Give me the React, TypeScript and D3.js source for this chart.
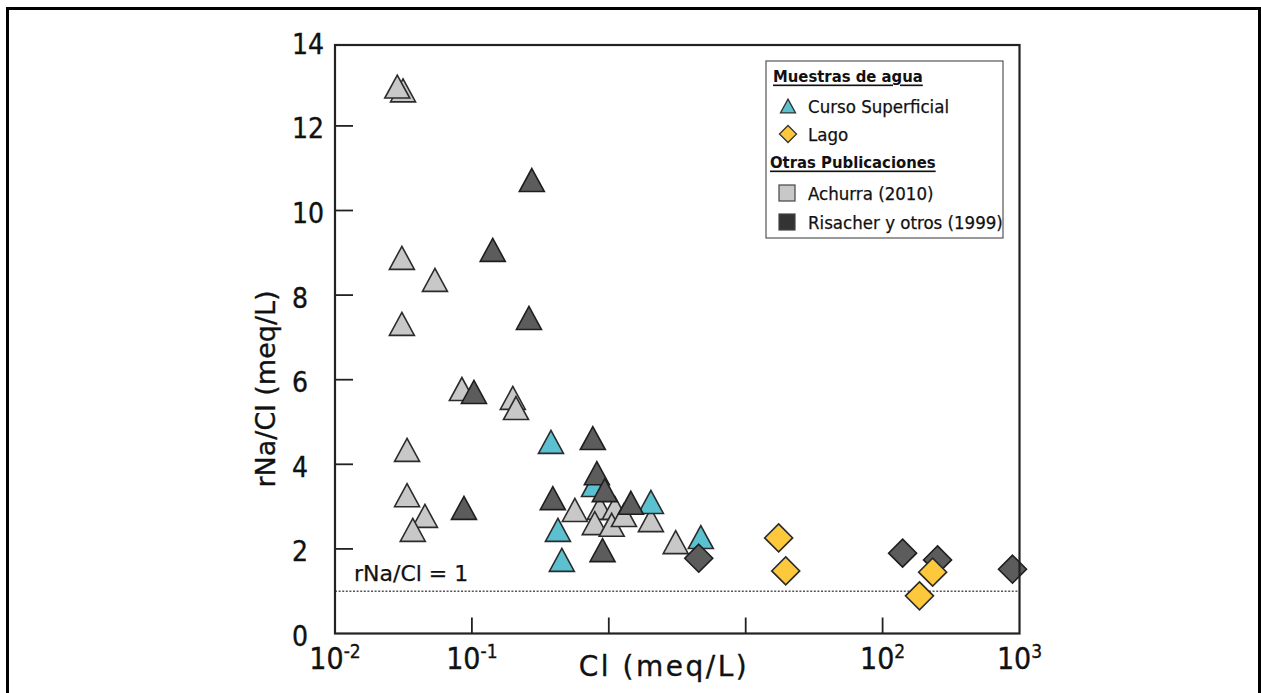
import React from "react";
import * as d3 from "d3";

// ---- Data (Cl in meq/L, ratio rNa/Cl) ----
const achurraCl = [0.0314, 0.0285, 0.0308, 0.0537, 0.0308, 0.0845, 0.199, 0.21, 0.0336, 0.0336, 0.0454, 0.037, 0.565, 0.86, 1.106, 0.79, 1.05, 1.29, 2.03, 3.08];
const achurraRatio = [12.84, 12.93, 8.88, 8.36, 7.32, 5.78, 5.57, 5.33, 4.34, 3.27, 2.78, 2.45, 2.92, 2.97, 2.97, 2.61, 2.57, 2.8, 2.68, 2.16];

const cursoCl = [0.378, 0.78, 2.03, 0.425, 0.454, 4.7];
const cursoRatio = [4.53, 3.51, 3.11, 2.45, 1.74, 2.28];

const risacherTriCl = [0.274, 0.142, 0.261, 0.1035, 0.0875, 0.764, 0.818, 0.935, 0.39, 1.45, 0.9];
const risacherTriRatio = [10.72, 9.07, 7.46, 5.71, 2.97, 4.62, 3.79, 3.39, 3.2, 3.09, 1.97];

const risacherDiaCl = [4.54, 140, 252, 889];
const risacherDiaRatio = [1.78, 1.9, 1.74, 1.52];

const lagoCl = [17.4, 19.6, 232, 186];
const lagoRatio = [2.26, 1.48, 1.45, 0.89];

const yTicks = [0, 2, 4, 6, 8, 10, 12, 14];
const xTickExps = [-2, -1, 0, 1, 2, 3];
const xLabelExps = [-2, -1, 2, 3];
const refLine = 1;

const legendItems = [
  { kind: "header", text: "Muestras de agua" },
  { kind: "tri", text: "Curso Superficial", fill: "#5bc1d1" },
  { kind: "dia", text: "Lago", fill: "#fdc83c" },
  { kind: "header", text: "Otras Publicaciones" },
  { kind: "sq", text: "Achurra (2010)", fill: "#c8c8c8" },
  { kind: "sq", text: "Risacher y otros (1999)", fill: "#333333" },
];

const COND = "'DejaVu Sans Condensed', 'DejaVu Sans', sans-serif";
const WIDE = "'DejaVu Sans', sans-serif";

const W = 1261;
const H = 693;
const plot = { left: 335, right: 1019.5, top: 45, bottom: 633.5 };

const x = d3.scaleLog().domain([1e-2, 1e3]).range([plot.left, plot.right]);
const y = d3.scaleLinear().domain([0, 14]).range([plot.bottom, 41.3]);

const triPath = (s: number) => {
  const h = s * 0.92;
  return `M0,${-h / 2}L${s / 2},${h / 2}L${-s / 2},${h / 2}Z`;
};
const diaPath = (s: number) => `M0,${-s / 2}L${s / 2},0L0,${s / 2}L${-s / 2},0Z`;

const C = {
  light: "#c8c8c8",
  dark: "#5c5c5c",
  cyan: "#5bc1d1",
  yellow: "#fdc83c",
};

const ink = { fill: "#111", stroke: "#111", strokeWidth: 0.35 };

function Marks({ xs, ys, d, fill, stroke }: { xs: number[]; ys: number[]; d: string; fill: string; stroke: string }) {
  return (
    <g>
      {xs.map((v, i) => (
        <path key={i} d={d} transform={`translate(${x(v)},${y(ys[i])})`} fill={fill} stroke={stroke} strokeWidth={1.6} strokeLinejoin="miter" />
      ))}
    </g>
  );
}

export default function App() {
  React.useEffect(() => {
    document.body.style.margin = "0";
    document.body.style.overflow = "hidden";
  }, []);
  const triS = 25;
  const diaS = 28;
  const lx = 766;
  const ly = 61;
  return (
    <svg width={W} height={H} style={{ position: "absolute", left: 0, top: 0, fontFamily: COND }}>
      <rect x={0} y={0} width={W} height={H} fill="#fff" />
      <rect x={7.5} y={8.5} width={1252} height={720} fill="none" stroke="#000" strokeWidth={3} />

      {/* reference line */}
      <line x1={plot.left} x2={plot.right} y1={y(refLine)} y2={y(refLine)} stroke="#555" strokeWidth={1.4} strokeDasharray="2,1.6" />
      <text x={354} y={581} fontSize={22} fontFamily={WIDE} {...ink} strokeWidth={0.25}>rNa/Cl = 1</text>

      {/* markers */}
      <Marks xs={achurraCl} ys={achurraRatio} d={triPath(triS)} fill={C.light} stroke="#2b2b2b" />
      <Marks xs={cursoCl} ys={cursoRatio} d={triPath(triS)} fill={C.cyan} stroke="#2b2b2b" />
      <Marks xs={risacherTriCl} ys={risacherTriRatio} d={triPath(triS)} fill={C.dark} stroke="#1e1e1e" />
      <Marks xs={risacherDiaCl} ys={risacherDiaRatio} d={diaPath(diaS)} fill={C.dark} stroke="#1e1e1e" />
      <Marks xs={lagoCl} ys={lagoRatio} d={diaPath(diaS)} fill={C.yellow} stroke="#2b2b2b" />

      {/* frame */}
      <rect x={plot.left} y={plot.top} width={plot.right - plot.left} height={plot.bottom - plot.top} fill="none" stroke="#222" strokeWidth={2.2} />

      {/* y ticks */}
      {yTicks.map((t) => (
        <g key={t}>
          {t > 0 && t < 14 && <line x1={plot.left} x2={plot.left + 18} y1={y(t)} y2={y(t)} stroke="#222" strokeWidth={1.8} />}
          <text x={292} y={y(t) + 3} dominantBaseline="central" fontSize={28} {...ink}>{t}</text>
        </g>
      ))}

      {/* x ticks */}
      {xTickExps.map((e) => (
        e > -2 && e < 3 ? <line key={e} x1={x(10 ** e)} x2={x(10 ** e)} y1={plot.bottom} y2={plot.bottom - 16} stroke="#222" strokeWidth={1.8} /> : null
      ))}
      {xLabelExps.map((e) => (
        <text key={e} x={x(10 ** e)} y={669} textAnchor="middle" fontSize={30} {...ink}>
          10<tspan fontSize={19} dy={-11}>{e}</tspan>
        </text>
      ))}

      {/* axis titles */}
      <text x={664} y={676} textAnchor="middle" fontSize={28} fontFamily={WIDE} letterSpacing={2.5} {...ink}>Cl (meq/L)</text>
      <text transform="translate(275,389) rotate(-90)" textAnchor="middle" fontSize={27} fontFamily={WIDE} {...ink}>rNa/Cl (meq/L)</text>

      {/* legend */}
      <rect x={lx} y={ly} width={237} height={177} fill="#fff" stroke="#555" strokeWidth={1.2} />
      {legendItems.map((it, i) => {
        const rows = [76, 106, 134, 162, 193, 222];
        const cy = rows[i];
        if (it.kind === "header") {
          return (
            <text key={i} x={i === 0 ? 773 : 770} y={cy} dominantBaseline="central" fontSize={16.5} fontWeight="bold" textDecoration="underline" fill="#111">{it.text}</text>
          );
        }
        let icon;
        if (it.kind === "tri") icon = <path d={triPath(15)} transform={`translate(788,${cy})`} fill={it.fill} stroke="#333" strokeWidth={1.3} />;
        else if (it.kind === "dia") icon = <path d={diaPath(17)} transform={`translate(788,${cy})`} fill={it.fill} stroke="#333" strokeWidth={1.3} />;
        else icon = <rect x={779} y={cy - 8} width={16} height={16} fill={it.fill} stroke="#444" strokeWidth={1.2} />;
        return (
          <g key={i}>
            {icon}
            <text x={808} y={cy} dominantBaseline="central" fontSize={18.5} {...ink} strokeWidth={0.25}>{it.text}</text>
          </g>
        );
      })}
    </svg>
  );
}
